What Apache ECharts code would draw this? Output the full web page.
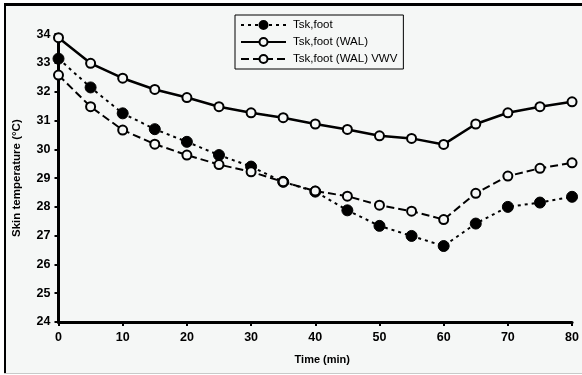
<!DOCTYPE html>
<html>
<head>
<meta charset="utf-8">
<script src="https://cdn.jsdelivr.net/npm/echarts@6/dist/echarts.min.js"></script>
<style>
html,body{margin:0;padding:0;background:#ffffff;}
#c{width:582px;height:375px;}
</style>
</head>
<body>
<div id="c"></div>
<script>
var times = [0,5,10,15,20,25,30,35,40,45,50,55,60,65,70,75,80];
var tskFoot = [33.15,32.15,31.25,30.70,30.26,29.80,29.40,28.87,28.53,27.88,27.34,26.99,26.64,27.42,28.00,28.15,28.35];
var tskFootWAL = [33.88,32.99,32.47,32.08,31.80,31.48,31.27,31.10,30.88,30.69,30.47,30.38,30.17,30.88,31.27,31.48,31.65];
var tskFootWALVWV = [32.58,31.48,30.67,30.18,29.80,29.47,29.22,28.87,28.55,28.37,28.06,27.85,27.56,28.47,29.07,29.34,29.53];
var seriesNames = ['Tsk,foot','Tsk,foot (WAL)','Tsk,foot (WAL) VWV'];
var xTicks = [0,10,20,30,40,50,60,70,80];
var yTicks = [24,25,26,27,28,29,30,31,32,33,34];

function pairs(vals){ return times.map(function(t,i){ return [t, vals[i]]; }); }

var chart = echarts.init(document.getElementById('c'), null, {renderer:'canvas'});
var font = '"Liberation Sans", Arial, sans-serif';
chart.setOption({
  backgroundColor: '#f5f7f6',
  animation: false,
  graphic: [
    {type:'rect', shape:{x:0,y:0,width:582,height:3}, style:{fill:'#ffffff'}, silent:true},
    {type:'rect', shape:{x:0,y:0,width:4,height:375}, style:{fill:'#ffffff'}, silent:true},
    {type:'rect', shape:{x:4,y:3,width:578,height:3}, style:{fill:'#000000'}, silent:true},
    {type:'rect', shape:{x:4,y:3,width:2,height:370}, style:{fill:'#000000'}, silent:true},
    {type:'rect', shape:{x:4,y:373,width:578,height:1}, style:{fill:'#c8cac9'}, silent:true},
    {type:'rect', shape:{x:4,y:374,width:578,height:1}, style:{fill:'#ffffff'}, silent:true}
  ],
  grid: {left:58.5, right:8.5, top:34.2, bottom:53, containLabel:false},
  legend: {
    orient:'vertical', left:235, top:15,
    backgroundColor:'#f5f7f6',
    borderColor:'#000', borderWidth:1, padding:[4,6,4,5],
    itemWidth:45, itemHeight:10, itemGap:5,
    textStyle:{fontFamily:font, fontSize:11.5, color:'#000', width:106, padding:[0,0,0,2]},
    data: seriesNames
  },
  xAxis: {
    type:'value', min:0, max:80, interval:10,
    name:'Time (min)', nameLocation:'middle', nameGap:32,
    nameTextStyle:{fontFamily:font, fontSize:11, fontWeight:'bold', color:'#000', padding:[0,0,0,14]},
    axisLine:{show:true, onZero:false, lineStyle:{color:'#000', width:3}},
    axisTick:{show:true, inside:false, length:4, lineStyle:{color:'#000', width:2}},
    axisLabel:{fontFamily:font, fontSize:12.5, fontWeight:'bold', color:'#000', margin:9,
      formatter:function(v){ return xTicks.indexOf(v)>=0 ? String(v) : ''; }},
    splitLine:{show:false}
  },
  yAxis: {
    type:'value', min:24, max:34, interval:1,
    name:'Skin temperature (°C)', nameLocation:'middle', nameGap:36,
    nameTextStyle:{fontFamily:font, fontSize:11.5, fontWeight:'bold', color:'#000'},
    axisLine:{show:true, onZero:false, lineStyle:{color:'#000', width:3}},
    axisTick:{show:true, inside:false, length:4, lineStyle:{color:'#000', width:2}},
    axisLabel:{fontFamily:font, fontSize:12.5, fontWeight:'bold', color:'#000', margin:8,
      formatter:function(v){ return yTicks.indexOf(v)>=0 ? String(v) : ''; }},
    splitLine:{show:false}
  },
  series: [
    {
      name: seriesNames[0], type:'line', data: pairs(tskFoot),
      symbol:'circle', symbolSize:11,
      lineStyle:{color:'#000', width:2, type:[3,4]},
      itemStyle:{color:'#000', borderColor:'#000', borderWidth:1},
      z:3
    },
    {
      name: seriesNames[1], type:'line', data: pairs(tskFootWAL),
      symbol:'circle', symbolSize:9,
      lineStyle:{color:'#000', width:2.5, type:'solid'},
      itemStyle:{color:'#f5f7f6', borderColor:'#000', borderWidth:2},
      z:4
    },
    {
      name: seriesNames[2], type:'line', data: pairs(tskFootWALVWV),
      symbol:'circle', symbolSize:9,
      lineStyle:{color:'#000', width:2, type:[8,4]},
      itemStyle:{color:'#f5f7f6', borderColor:'#000', borderWidth:2},
      z:5
    }
  ]
});
</script>
</body>
</html>
